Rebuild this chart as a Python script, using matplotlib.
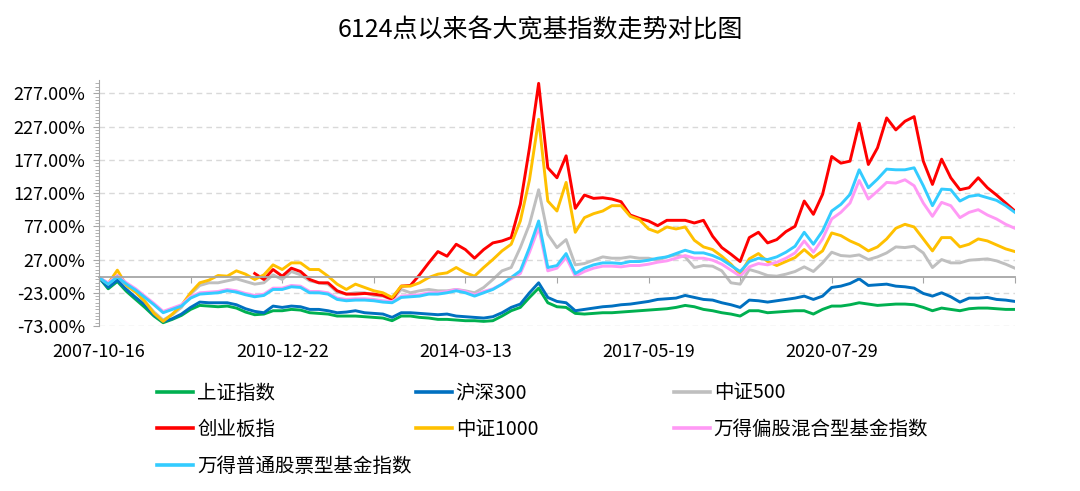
import numpy as np
import matplotlib.pyplot as plt
from matplotlib.ticker import FixedLocator, FuncFormatter

plt.rcParams['font.family'] = ['Noto Sans CJK SC', 'DejaVu Sans']

# cumulative return (%) since 2007-10-16, 101 evenly spaced samples on the trading-day axis
date_labels = ["2007-10-16", "2010-12-22", "2014-03-13", "2017-05-19", "2020-07-29"]

sh_comp = [0, -17, -6, -21, -33, -45, -58, -68, -63, -57, -48, -42, -43, -44, -43, -46, -52, -56, -55, -50,
           -50, -48, -49, -53, -54, -55, -58, -58, -58, -59, -60, -61, -65, -58, -58, -60, -61, -63, -63, -64,
           -65, -65, -66, -65, -58, -50, -45, -30, -16, -38, -44, -45, -54, -55, -54, -53, -53, -52, -51, -50,
           -49, -48, -47, -45, -42, -44, -48, -50, -53, -55, -58, -50, -50, -53, -52, -51, -50, -50, -55, -48,
           -43, -43, -41, -38, -40, -42, -41, -40, -40, -41, -45, -50, -46, -48, -50, -47, -46, -46, -47, -48,
           -48]
hs300 = [0, -15, -4, -18, -30, -41, -56, -66, -62, -55, -45, -37, -38, -38, -38, -41, -47, -51, -53, -43,
         -45, -43, -44, -48, -48, -50, -53, -52, -50, -53, -54, -55, -60, -53, -53, -54, -55, -56, -55, -58,
         -59, -60, -61, -59, -53, -45, -40, -23, -8, -30, -36, -38, -50, -48, -46, -44, -43, -41, -40, -38,
         -36, -33, -32, -31, -27, -30, -33, -34, -38, -41, -45, -34, -35, -37, -35, -33, -31, -28, -33, -28,
         -15, -13, -9, -2, -12, -11, -10, -13, -14, -16, -24, -28, -23, -29, -37, -31, -31, -30, -33, -34,
         -36]
csi500 = [0, -10, 3, -12, -22, -36, -52, -64, -56, -45, -25, -12, -8, -8, -5, -2, -6, -10, -8, 4,
          -3, 9, 4, -5, -8, -10, -22, -25, -23, -23, -27, -28, -33, -18, -23, -20, -18, -20, -20, -18,
          -20, -23, -15, -3, 10, 15, 45, 80, 132, 65, 45, 57, 19, 21, 26, 31, 29, 29, 31, 29,
          29, 26, 31, 34, 31, 15, 18, 17, 10, -8, -10, 12, 8, 3, 2, 5, 9, 16, 9, 22,
          38, 33, 32, 34, 27, 31, 37, 46, 45, 47, 37, 15, 27, 22, 22, 26, 27, 28, 25, 20,
          14]
chinext = [np.nan] * 17 + [
    6, -3, 12,
    2, 14, 9, -3, -8, -8, -20, -25, -25, -24, -25, -27, -33, -13, -12, 4, 22, 39, 32, 50,
    42, 29, 42, 52, 55, 60, 110, 195, 292, 165, 150, 183, 104, 124, 119, 120, 118, 114, 94, 89,
    85, 78, 86, 86, 86, 82, 86, 62, 45, 35, 24, 60, 68, 52, 57, 69, 77, 115, 95, 125,
    182, 172, 175, 232, 170, 195, 240, 222, 235, 242, 175, 140, 178, 150, 132, 135, 150, 135, 124, 112,
    100]
csi1000 = [0, -9, 11, -12, -22, -36, -54, -66, -55, -42, -23, -8, -4, 3, 2, 10, 5, -3, 4, 19,
           12, 22, 22, 12, 12, 2, -10, -18, -10, -15, -20, -23, -30, -13, -13, -8, 0, 5, 7, 15,
           7, 2, 15, 27, 40, 50, 85, 147, 238, 115, 100, 143, 68, 90, 96, 100, 108, 108, 92, 87,
           73, 68, 76, 73, 76, 56, 46, 42, 32, 20, 5, 28, 36, 24, 18, 24, 30, 42, 30, 40,
           67, 63, 55, 49, 40, 46, 58, 74, 80, 76, 58, 40, 60, 60, 46, 50, 58, 55, 49, 43,
           39]
wind_hybrid = [0, -8, 3, -8, -17, -28, -39, -51, -46, -41, -29, -23, -22, -21, -18, -20, -24, -27, -25, -16,
               -16, -12, -13, -21, -21, -23, -31, -33, -32, -32, -33, -35, -36, -28, -27, -26, -23, -23, -21, -18,
               -21, -26, -21, -17, -10, -2, 6, 38, 75, 10, 14, 30, 2, 9, 14, 17, 17, 16, 18, 18,
               20, 23, 25, 29, 33, 29, 29, 26, 20, 11, 2, 16, 21, 19, 23, 29, 37, 55, 38, 58,
               88, 98, 112, 146, 118, 130, 143, 142, 147, 138, 112, 92, 113, 108, 90, 98, 102, 94, 88, 80,
               74]
wind_stock = [0, -10, 1, -10, -19, -30, -41, -53, -48, -43, -31, -25, -24, -23, -20, -22, -26, -29, -27, -18,
              -18, -14, -15, -23, -23, -25, -33, -35, -34, -34, -35, -37, -38, -30, -29, -28, -25, -25, -23, -20,
              -23, -28, -23, -18, -10, 0, 10, 45, 85, 15, 18, 36, 6, 14, 19, 22, 22, 21, 24, 24,
              26, 29, 31, 36, 41, 37, 37, 33, 27, 18, 9, 24, 29, 27, 31, 38, 47, 68, 50, 70,
              100, 110, 125, 162, 135, 148, 163, 162, 162, 165, 138, 108, 133, 132, 115, 122, 124, 120, 116, 108,
              98]

series = [
    ("上证指数", sh_comp, "#00B050"),
    ("沪深300", hs300, "#0070C0"),
    ("中证500", csi500, "#BFBFBF"),
    ("创业板指", chinext, "#FF0000"),
    ("中证1000", csi1000, "#FFC000"),
    ("万得偏股混合型基金指数", wind_hybrid, "#FF99F5"),
    ("万得普通股票型基金指数", wind_stock, "#33CCFF"),
]

fig = plt.figure(figsize=(10.8, 4.91), dpi=100)
ax = fig.add_axes([0.0917, 0.336, 0.848, 0.501])

x = np.arange(len(sh_comp))
handles = {}
for name, vals, col in series:
    ln, = ax.plot(x, vals, color=col, lw=2.1, solid_joinstyle="round")
    handles[name] = ln

ax.set_xlim(0, x[-1])
ax.set_ylim(-73, 297)
ax.yaxis.set_major_locator(FixedLocator(np.arange(-73, 278, 50)))
ax.yaxis.set_minor_locator(FixedLocator(np.arange(-73, 297, 5)))
ax.yaxis.set_major_formatter(FuncFormatter(lambda v, p: f"{v:.2f}%"))
ax.tick_params(axis="y", which="major", length=4, color="#A6A6A6", labelsize=13, pad=6)
ax.tick_params(axis="y", which="minor", length=3, color="#A6A6A6")
ax.grid(axis="y", which="major", color="#D9D9D9", lw=1, linestyle=(0, (4, 3)))

for s in ("top", "right"):
    ax.spines[s].set_visible(False)
ax.spines["left"].set_color("#A6A6A6")
ax.spines["bottom"].set_position(("data", 0))
ax.spines["bottom"].set_color("#A6A6A6")
ax.spines["bottom"].set_linewidth(1.3)
ax.set_axisbelow(True)

ax.xaxis.set_major_locator(FixedLocator(np.arange(0, x[-1] + 1, 10)))
ax.tick_params(axis="x", length=4, color="#A6A6A6", labelbottom=False)

sec = ax.secondary_xaxis("bottom")
sec.set_xticks(np.arange(0, 81, 20), date_labels)
sec.tick_params(length=0, labelsize=13, pad=12)
sec.spines["bottom"].set_visible(False)

fig.suptitle("6124点以来各大宽基指数走势对比图", x=0.5, y=0.965, fontsize=18)

cols = [
    (0.1455, ["上证指数", "创业板指", "万得普通股票型基金指数"]),
    (0.385, ["沪深300", "中证1000"]),
    (0.624, ["中证500", "万得偏股混合型基金指数"]),
]
for xpos, names in cols:
    leg = fig.legend([handles[n] for n in names], names, loc="upper left",
                     bbox_to_anchor=(xpos, 0.221), frameon=False, fontsize=14,
                     handlelength=1.85, handletextpad=0.2, labelspacing=0.81,
                     borderaxespad=0, borderpad=0)
    for h in leg.get_lines():
        h.set_linewidth(2.6)

fig.savefig("out.png", dpi=100)
